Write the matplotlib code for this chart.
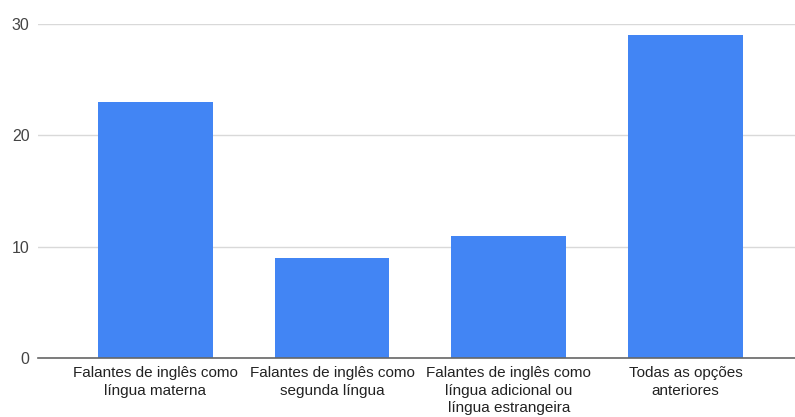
import matplotlib
matplotlib.use("Agg")
import matplotlib.pyplot as plt

categories = [
    "Falantes de inglês como\nlíngua materna",
    "Falantes de inglês como\nsegunda língua",
    "Falantes de inglês como\nlíngua adicional ou\nlíngua estrangeira",
    "Todas as opções\nanteriores",
]
values = [23, 9, 11, 29]
yticks = [0, 10, 20, 30]

fig = plt.figure(figsize=(7.95, 4.17), dpi=100)
ax = fig.add_axes([38 / 795, 1 - 358 / 417, 1 - 38 / 795, (358 - 24) / 417])

x = list(range(len(values)))
ax.bar(x, values, width=0.65, color="#4285F4", zorder=3)

ax.set_ylim(0, 30)
ax.set_xlim(-0.664, 3.62)
ax.set_yticks(yticks)
ax.set_yticklabels([str(t) for t in yticks], fontsize=11.5, color="#444444",
                   family="Liberation Sans")
ax.set_xticks(x)
ax.set_xticklabels(categories, fontsize=11, color="#222222", family="Liberation Sans",
                   linespacing=1.3)
ax.tick_params(axis="both", length=0)
ax.tick_params(axis="y", pad=6)
ax.tick_params(axis="x", pad=6)

ax.grid(axis="y", color="#d9d9d9", linewidth=1, zorder=0)
for s in ["top", "right", "left"]:
    ax.spines[s].set_visible(False)
ax.spines["bottom"].set_color("#666666")
ax.spines["bottom"].set_linewidth(1.2)
ax.spines["bottom"].set_zorder(4)

fig.savefig("out.png", dpi=100)
